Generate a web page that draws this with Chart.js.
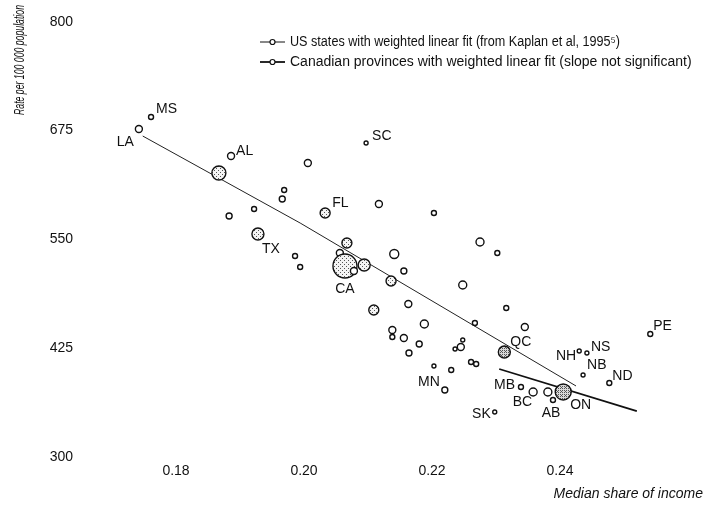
<!DOCTYPE html>
<html>
<head>
<meta charset="utf-8">
<script src="https://cdn.jsdelivr.net/npm/chart.js@4"></script>
<style>
  body { margin: 0; background: #fff; }
  canvas { display: block; }
</style>
</head>
<body>
<canvas id="chart" width="705" height="507"></canvas>
<script>
// US states: code (blank = unlabelled), median share, rate, bubble radius
const usCodes = ["LA", "MS", "AL", "", "", "", "", "", "TX", "SC", "", "FL", "", "", "", "", "", "", "CA", "", "", "", "", "", "", "", "", "", "", "", "", "", "", "", "", "", "", "", "", "", "", "", "", "MN", "", "", "NH", "ND", ""];
const usShare = [0.1742, 0.1761, 0.1886, 0.1867, 0.1969, 0.1966, 0.1922, 0.1883, 0.1928, 0.2097, 0.2006, 0.2033, 0.2117, 0.2203, 0.1986, 0.1994, 0.2067, 0.2056, 0.2064, 0.2094, 0.2078, 0.2141, 0.2156, 0.2136, 0.2275, 0.2302, 0.2248, 0.2109, 0.2163, 0.2267, 0.2188, 0.2138, 0.2138, 0.2156, 0.2180, 0.2164, 0.2248, 0.2245, 0.2236, 0.2261, 0.2269, 0.2203, 0.2230, 0.2220, 0.2316, 0.2345, 0.2430, 0.2477, 0.2381];
const usRate = [676.7, 690.5, 645.6, 626.1, 606.6, 596.2, 584.7, 576.7, 556.0, 660.6, 637.6, 580.1, 590.5, 580.1, 530.7, 518.0, 545.6, 534.1, 519.2, 520.3, 513.4, 533.0, 513.4, 502.0, 546.8, 534.1, 497.4, 468.6, 475.5, 453.7, 452.5, 445.6, 437.6, 436.4, 429.5, 419.2, 434.1, 426.1, 423.8, 408.9, 406.6, 404.3, 399.7, 376.7, 470.9, 449.1, 421.5, 384.7, 374.4];
const usSize = [3.5, 2.5, 3.5, 7, 2.5, 3, 2.5, 3, 6, 2, 3.5, 5, 3.5, 2.5, 2.5, 2.5, 5, 3.5, 12, 6, 3.5, 4.5, 3, 5, 4, 2.5, 4, 5, 3.5, 2.5, 4, 3.5, 2.5, 3.5, 3, 3, 2, 3.5, 2, 2.5, 2.5, 2, 2.5, 3, 2.5, 3.5, 2, 2.5, 4];

// Canadian provinces
const caCodes = ["QC", "ON", "MB", "BC", "AB", "SK", "NS", "NB", "PE"];
const caShare = [0.2313, 0.2405, 0.2339, 0.2358, 0.2389, 0.2298, 0.2442, 0.2436, 0.2541];
const caRate = [420.3, 374.4, 380.1, 374.4, 365.2, 351.4, 419.2, 393.9, 441.0];
const caSize = [6, 8, 2.5, 4, 2.5, 2, 2, 2, 2.5];

// weighted linear fits
const usFitShare = [0.1748, 0.1994, 0.2425];
const usFitRate = [668.6, 568.6, 381.3];
const caFitShare = [0.2305, 0.2520];
const caFitRate = [400.8, 352.5];

const xTicks = [0.18, 0.20, 0.22, 0.24];
const yTicks = [300, 425, 550, 675, 800];

const legendText = [
  "US states with weighted linear fit (from Kaplan et al, 1995\u2075)",
  "Canadian provinces with weighted linear fit (slope not significant)"
];
const yTitle = "Rate per 100 000 population";

// where each code sits relative to its circle: [dx, dy, align]
const labelPos = {
  LA: [-5, 13, "right"], MS: [5, -8, "left"], AL: [5, -5, "left"], SC: [6, -7, "left"],
  FL: [7, -10, "left"], TX: [4, 15, "left"], CA: [0, 23, "center"], MN: [-5, -8, "right"],
  NH: [-3, 5, "right"], ND: [3, -7, "left"], QC: [6, -10, "left"], ON: [7, 13, "left"],
  MB: [-6, -2, "right"], BC: [-1, 10, "right"], AB: [-2, 13, "center"], SK: [-4, 2, "right"],
  NS: [4, -6, "left"], NB: [4, -10, "left"], PE: [3, -8, "left"]
};

const FONT = "'Liberation Sans', Arial, sans-serif";
Chart.defaults.font.family = FONT;
Chart.defaults.color = "#111";

const canvas = document.getElementById("chart");
const g = canvas.getContext("2d");

function stipple(bg, dots) {
  const c = document.createElement("canvas");
  c.width = c.height = 4;
  const p = c.getContext("2d");
  p.fillStyle = bg;
  p.fillRect(0, 0, 4, 4);
  p.fillStyle = "#555";
  dots.forEach(([x, y]) => p.fillRect(x, y, 1, 1));
  return g.createPattern(c, "repeat");
}
const lightFill = stipple("#f4f4f4", [[0, 0], [2, 2]]);
const darkFill = stipple("#d8d8d8", [[0, 0], [2, 2], [2, 0], [0, 2], [1, 3]]);

const toPoints = (xs, ys, rs) => xs.map((x, i) => ({ x, y: ys[i], r: rs[i] }));

const pointLabels = {
  id: "pointLabels",
  afterDatasetsDraw(chart) {
    const ctx = chart.ctx;
    ctx.save();
    ctx.font = "14px " + FONT;
    ctx.fillStyle = "#111";
    ctx.textBaseline = "middle";
    [[0, usCodes], [1, caCodes]].forEach(([di, codes]) => {
      chart.getDatasetMeta(di).data.forEach((el, i) => {
        const pos = labelPos[codes[i]];
        if (!pos) return;
        ctx.textAlign = pos[2];
        ctx.fillText(codes[i], el.x + pos[0], el.y + pos[1]);
      });
    });
    ctx.restore();
  }
};

// key in the upper right and the condensed rotated y title
const annotations = {
  id: "annotations",
  afterDraw(chart) {
    const ctx = chart.ctx;
    ctx.save();
    ctx.font = "14px " + FONT;
    ctx.textBaseline = "middle";
    ctx.textAlign = "left";
    legendText.forEach((t, i) => {
      const y = 42 + i * 20;
      ctx.strokeStyle = "#111";
      ctx.lineWidth = i === 0 ? 1 : 1.8;
      ctx.beginPath();
      ctx.moveTo(260, y);
      ctx.lineTo(285, y);
      ctx.stroke();
      ctx.beginPath();
      ctx.lineWidth = 1.2;
      ctx.fillStyle = "#fff";
      ctx.arc(272.5, y, 2.5, 0, Math.PI * 2);
      ctx.fill();
      ctx.stroke();
      ctx.fillStyle = "#111";
      ctx.fillText(t, 290, y, i === 0 ? 330 : 412);
    });

    ctx.font = "italic 14px " + FONT;
    ctx.translate(20, chart.chartArea.top);
    ctx.rotate(-Math.PI / 2);
    ctx.textAlign = "right";
    ctx.fillText(yTitle, 0, 0, 110);
    ctx.restore();
  }
};

const bubbleFill = (ctx) => {
  const r = ctx.raw ? ctx.raw.r : 0;
  if (ctx.datasetIndex === 1 && r >= 6) return darkFill;
  return r >= 5 ? lightFill : "#fff";
};

new Chart(canvas, {
  data: {
    datasets: [
      {
        type: "bubble",
        label: "US states",
        data: toPoints(usShare, usRate, usSize),
        backgroundColor: bubbleFill,
        borderColor: "#111",
        borderWidth: 1.4,
      },
      {
        type: "bubble",
        label: "Canadian provinces",
        data: toPoints(caShare, caRate, caSize),
        backgroundColor: bubbleFill,
        borderColor: "#111",
        borderWidth: 1.4,
      },
      {
        type: "line",
        label: "US fit",
        data: usFitShare.map((x, i) => ({ x, y: usFitRate[i] })),
        borderColor: "#222",
        borderWidth: 1,
        pointRadius: 0,
        fill: false,
      },
      {
        type: "line",
        label: "Canada fit",
        data: caFitShare.map((x, i) => ({ x, y: caFitRate[i] })),
        borderColor: "#111",
        borderWidth: 1.8,
        pointRadius: 0,
        fill: false,
      },
    ],
  },
  options: {
    responsive: false,
    animation: false,
    layout: { autoPadding: false, padding: { top: 5, right: 2, bottom: 0, left: 0 } },
    plugins: {
      legend: { display: false },
      tooltip: { enabled: false },
    },
    scales: {
      x: {
        type: "linear",
        min: 0.165,
        max: 0.26234,
        afterBuildTicks: (s) => { s.ticks = xTicks.map((v) => ({ value: v })); },
        afterFit: (s) => {
          s.height = 50.3;
          s.paddingLeft = 0;
          s.paddingRight = 0;
        },
        grid: { display: false, drawTicks: false },
        border: { display: false },
        ticks: {
          padding: 6,
          autoSkip: false,
          maxRotation: 0,
          font: { size: 14 },
          callback: (v) => v.toFixed(2),
        },
        title: {
          display: true,
          text: "Median share of income",
          align: "end",
          font: { size: 14, style: "italic" },
          padding: { top: 0, bottom: 4 },
        },
      },
      y: {
        min: 300,
        max: 819.2,
        afterBuildTicks: (s) => { s.ticks = yTicks.map((v) => ({ value: v })); },
        afterFit: (s) => {
          s.width = 80;
          s.paddingTop = 0;
          s.paddingBottom = 0;
        },
        grid: { display: false, drawTicks: false },
        border: { display: false },
        ticks: { padding: 7, font: { size: 14 } },
      },
    },
  },
  plugins: [pointLabels, annotations],
});
</script>
</body>
</html>
